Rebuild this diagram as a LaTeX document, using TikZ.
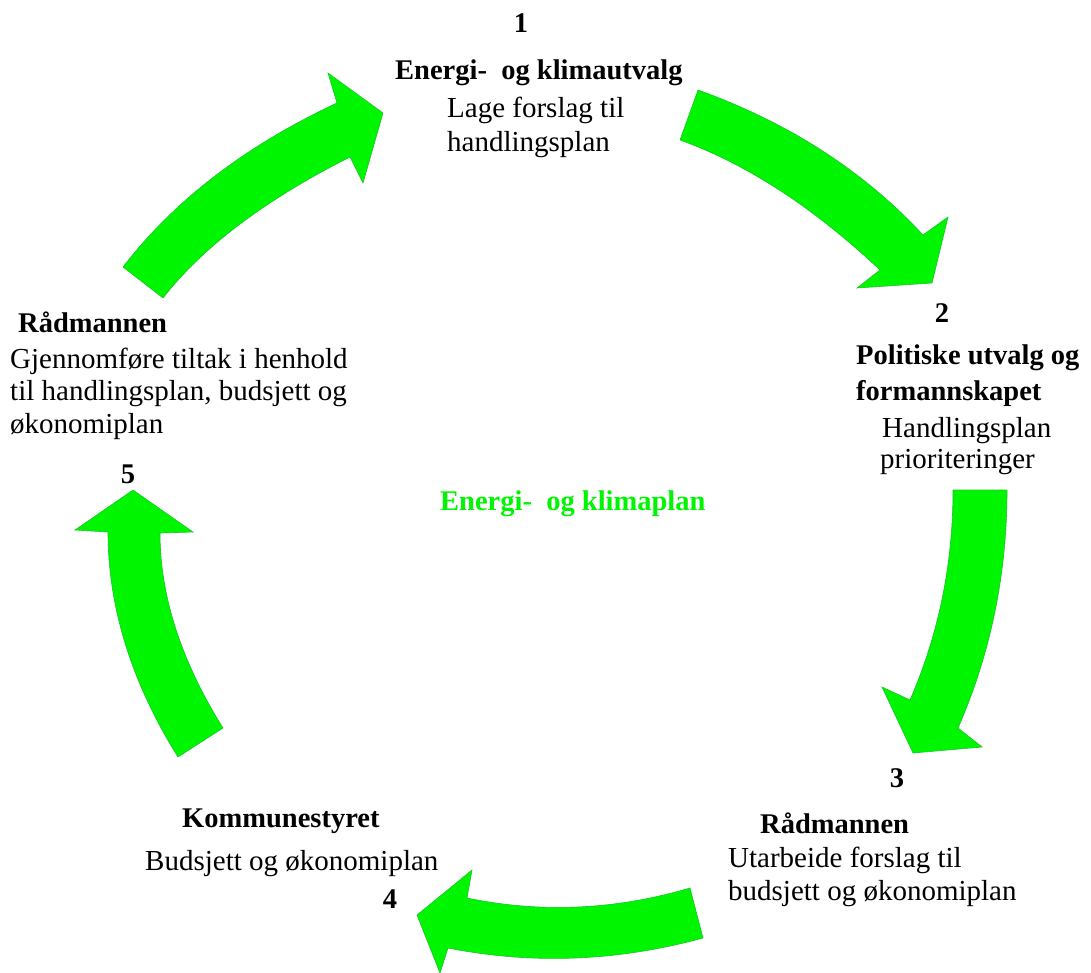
\documentclass[tikz,border=0pt]{standalone}
\usepackage{fontspec}
\setmainfont{Liberation Serif}
\definecolor{arrowgreen}{RGB}{0,245,0}
\definecolor{edgegreen}{RGB}{20,200,40}
\begin{document}
\begin{tikzpicture}[x=1pt,y=-1pt,
  lbl/.style={inner sep=0pt, font=\fontsize{29}{33}\selectfont},
  hdr/.style={inner sep=0pt, font=\fontsize{28.5}{33}\selectfont\bfseries},
  bigarrow/.style={fill=arrowgreen, draw=edgegreen, line width=0.6pt, line join=miter}]
\useasboundingbox (0,0) rectangle (1091,973);

% arrow 1 -> 2 (top left)
\filldraw[bigarrow] (123,267) .. controls (174.3,200.3) and (245.7,145.7) .. (337,103)
  -- (328,73) -- (383,113) -- (363,183) -- (350,157)
  .. controls (265.3,199.7) and (203,246.7) .. (163,298) -- cycle;
% arrow 2 (top right)
\filldraw[bigarrow] (698,90) .. controls (788.7,122.7) and (863.7,171) .. (923,235)
  -- (948,217) -- (932,283) -- (857,288) -- (880,270)
  .. controls (813.3,207.3) and (746.7,164) .. (680,140) -- cycle;
% arrow 3 (right)
\filldraw[bigarrow] (953,490) -- (1007,490) .. controls (1007,574) and (990.7,653.3) .. (958,728)
  -- (982,747) -- (913,753) -- (882,687) -- (910,700)
  .. controls (938.7,634) and (953,564) .. (953,490) -- cycle;
% arrow 4 (bottom)
\filldraw[bigarrow] (690,888) .. controls (615.3,910) and (541,913.3) .. (467,898)
  -- (472,870) -- (417,915) -- (440,973) -- (448,948)
  .. controls (532.7,964.7) and (617.7,961.3) .. (703,938) -- cycle;
% arrow 5 (left)
\filldraw[bigarrow] (133,490) -- (75,530) -- (108,532)
  .. controls (108,607) and (131.3,682.2) .. (178,757) -- (223,728)
  .. controls (181,660.7) and (160,595.7) .. (160,533) -- (193,532) -- cycle;

% step 1
\node[hdr, anchor=base] (n1) at (521,33) {1};
\node[hdr, anchor=base west] (t1) at (395,80) {Energi-\ \ og klimautvalg};
\node[lbl, anchor=base west] (d1a) at (447,118) {Lage forslag til};
\node[lbl, anchor=base west] (d1b) at (447,152) {handlingsplan};
% step 2
\node[hdr, anchor=base] (n2) at (942,322) {2};
\node[hdr, anchor=base west] (t2a) at (856,364) {Politiske utvalg og};
\node[hdr, anchor=base west] (t2b) at (856,400) {formannskapet};
\node[lbl, anchor=base west] (d2a) at (882,437) {Handlingsplan};
\node[lbl, anchor=base west] (d2b) at (880,468) {prioriteringer};
% step 3
\node[hdr, anchor=base] (n3) at (897,787) {3};
\node[hdr, anchor=base west] (t3) at (760,833) {Rådmannen};
\node[lbl, anchor=base west] (d3a) at (728,867) {Utarbeide forslag til};
\node[lbl, anchor=base west] (d3b) at (728,900) {budsjett og økonomiplan};
% step 4
\node[hdr, anchor=base] (n4) at (390,908) {4};
\node[hdr, anchor=base west] (t4) at (182,827) {Kommunestyret};
\node[lbl, anchor=base west] (d4) at (145,870) {Budsjett og økonomiplan};
% step 5
\node[hdr, anchor=base] (n5) at (128,483) {5};
\node[hdr, anchor=base west] (t5) at (18,332) {Rådmannen};
\node[lbl, anchor=base west] (d5a) at (10,368) {Gjennomføre tiltak i henhold};
\node[lbl, anchor=base west] (d5b) at (10,400) {til handlingsplan, budsjett og};
\node[lbl, anchor=base west] (d5c) at (10,433) {økonomiplan};
% centre
\node[hdr, anchor=base west, text=arrowgreen] (c) at (440,510) {Energi-\ \ og klimaplan};
\end{tikzpicture}
\end{document}
